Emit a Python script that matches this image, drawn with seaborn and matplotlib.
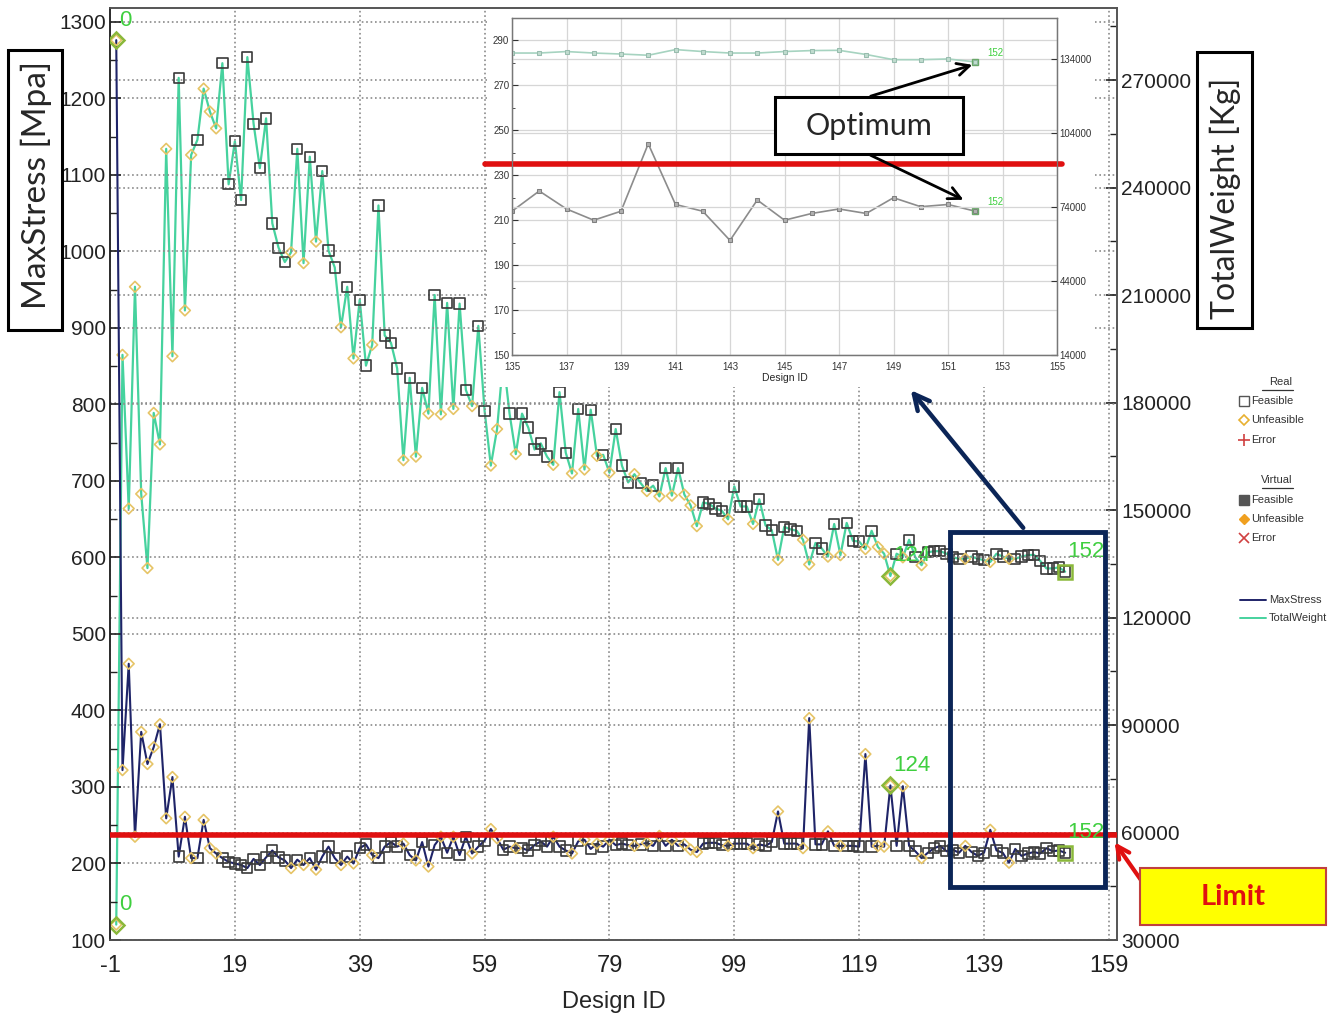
import numpy as np
import pandas as pd
import seaborn as sns
import matplotlib.pyplot as plt
from matplotlib.patches import Rectangle, FancyArrowPatch
from matplotlib.lines import Line2D
from matplotlib.ticker import FixedLocator

# ---- data (design 0 .. 152) ----
design_ids = list(range(153))

max_stress = [
    1276, 322, 461, 235, 372, 330, 352, 382, 259, 313,
    209, 261, 207, 207, 257, 220, 213, 207, 202, 200,
    198, 194, 206, 198, 208, 217, 208, 204, 194, 205,
    198, 207, 192, 209, 222, 207, 198, 209, 200, 220,
    225, 211, 207, 222, 228, 222, 226, 211, 204, 228,
    196, 224, 235, 214, 235, 211, 235, 213, 222, 230,
    245, 233, 218, 222, 220, 220, 217, 224, 229, 222,
    235, 222, 217, 213, 229, 231, 219, 226, 222, 231,
    224, 226, 224, 223, 225, 227, 223, 236, 223, 231,
    223, 225, 218, 215, 226, 227, 227, 224, 223, 226,
    226, 226, 220, 225, 223, 228, 268, 226, 226, 226,
    220, 390, 225, 225, 242, 223, 223, 223, 223, 222,
    343, 222, 223, 222, 302, 223, 301, 223, 216, 207,
    214, 220, 223, 216, 218, 214, 223, 215, 210, 214,
    244, 217, 214, 201, 219, 210, 213, 215, 213, 220,
    216, 217, 214,
]

total_weight = [
    34300, 193300, 150400, 212300, 154500, 133800, 177100, 168300, 250800, 192900,
    270600, 205700, 249100, 253300, 267600, 261200, 256500, 274700, 240900, 252900,
    236500, 276400, 257800, 245400, 259300, 230000, 223200, 219200, 221900, 250800,
    218900, 248600, 224900, 244600, 222400, 217700, 201000, 212300, 192300, 208700,
    190300, 196100, 235000, 198700, 196700, 189500, 163900, 186900, 164900, 184100,
    176900, 210000, 176700, 207800, 178200, 207600, 183500, 179000, 201400, 177700,
    162400, 172600, 192300, 176900, 165600, 176900, 173000, 166900, 168600, 164900,
    162600, 182900, 166000, 160200, 178200, 161300, 178000, 165100, 165400, 160400,
    172600, 162400, 157700, 160000, 157500, 155300, 156800, 153800, 161700, 154000,
    161700, 154300, 151300, 145500, 152100, 151700, 150400, 149800, 147400, 156600,
    151000, 151000, 146100, 153000, 145700, 144400, 136100, 145300, 144600, 144200,
    141700, 134800, 140800, 139300, 137000, 146100, 137400, 146400, 141400, 141200,
    139100, 144200, 139700, 137800, 131600, 137800, 136800, 141700, 136800, 134600,
    138200, 138500, 138500, 137800, 136800, 136400, 136400, 137000, 136400, 136000,
    135500, 137800, 137000, 136400, 136400, 137000, 137400, 137500, 135800, 133700,
    133700, 134000, 132800,
]

# F = feasible (square), U = unfeasible (diamond)
status = list(
    "UUUUUUUUUU" "FUUFUUUFFF" "FFFFFFFFUF" "UFUFFFUFUF" "FUFFFFUFUF"
    "UFUFUFFUFF" "UUFFUFFFFF" "UFFUFUFUFU" "FFFUFUFUFU" "FUUUFFFFUF"
    "FFUFFFUFFF" "UUFFUFUFFF" "UFUUUFUFFU" "FFFFFFUFFF" "UFFUFFFFFF" "FFF"
)

highlight_ids = [0, 124, 152]
zoom_ids = list(range(135, 153))
stress_limit_main = 237
stress_limit_zoom = 235

x_ticks = list(range(-1, 160, 20))
stress_ticks = list(range(100, 1301, 100))
weight_ticks = list(range(30000, 270001, 30000))
zoom_x_ticks = list(range(135, 156, 2))
zoom_stress_ticks = list(range(150, 291, 20))
zoom_weight_ticks = list(range(14000, 134001, 30000))

df = pd.DataFrame({"DesignID": design_ids, "MaxStress": max_stress,
                   "TotalWeight": total_weight, "Status": status})
feas = df[df["Status"] == "F"]
unfeas = df[df["Status"] == "U"]
hi = df[df["DesignID"].isin(highlight_ids)]
zdf = df[df["DesignID"].isin(zoom_ids)]

# ---- style ----
sns.set_theme(style="white")
plt.rcParams["font.family"] = ["Liberation Sans", "DejaVu Sans"]
plt.rcParams["axes.unicode_minus"] = False

NAVY = "#1f2468"
TEAL = "#46d29e"
SQ = "#3a3a3a"
DIA = "#e6c466"
GREEN = "#3fcf3f"
RED = "#e01010"
GRID = "#8a8a8a"

W, H = 1343, 1021
fig = plt.figure(figsize=(W / 100, H / 100), dpi=100, facecolor="white")


def fbox(x0, y0, x1, y1):
    return [x0 / W, 1 - y1 / H, (x1 - x0) / W, (y1 - y0) / H]


def fp(x, y):
    return (x / W, 1 - y / H)


# ---- main chart ----
ax = fig.add_axes(fbox(110, 8, 1117, 940))
ax2 = ax.twinx()
ax.set_zorder(2)
ax.patch.set_visible(False)
ax2.set_zorder(1)

sns.lineplot(data=df, x="DesignID", y="TotalWeight", ax=ax2, color=TEAL, lw=1.6, zorder=2)
sns.scatterplot(data=feas, x="DesignID", y="TotalWeight", ax=ax2, marker="s", s=55,
                facecolors="none", edgecolor=SQ, linewidth=1.2, zorder=3)
sns.scatterplot(data=unfeas, x="DesignID", y="TotalWeight", ax=ax2, marker="D", s=30,
                facecolors="none", edgecolor=DIA, linewidth=1.2, zorder=3)

sns.lineplot(data=df, x="DesignID", y="MaxStress", ax=ax, color=NAVY, lw=1.5, zorder=2)
sns.scatterplot(data=feas, x="DesignID", y="MaxStress", ax=ax, marker="s", s=55,
                facecolors="none", edgecolor=SQ, linewidth=1.2, zorder=3)
sns.scatterplot(data=unfeas, x="DesignID", y="MaxStress", ax=ax, marker="D", s=30,
                facecolors="none", edgecolor=DIA, linewidth=1.2, zorder=3)

# highlighted designs (0, 124, 152)
for _, r in hi.iterrows():
    m = "s" if r["Status"] == "F" else "D"
    for a, col in ((ax, "MaxStress"), (ax2, "TotalWeight")):
        a.plot(r["DesignID"], r[col], marker=m, ms=10 if m == "s" else 8, mfc="none",
               mec="#8ab83a", mew=1.8, zorder=4)
        a.annotate(str(int(r["DesignID"])), (r["DesignID"], r[col]),
                   xytext=(21 if r["DesignID"] else 9, 20), textcoords="offset pixels",
                   ha="center", va="center", color=GREEN, fontsize=16, zorder=5)

ax.axhline(stress_limit_main, color=RED, lw=4, zorder=4)

ax.set_xlim(-1, 160.3)
ax.set_ylim(100, 1318)
ax2.set_ylim(30000, 290100)
ax.set_xticks(x_ticks)
ax.xaxis.set_minor_locator(FixedLocator(list(range(9, 160, 20))))
ax.set_yticks(stress_ticks)
ax.yaxis.set_minor_locator(FixedLocator(list(range(150, 1301, 100))))
ax2.set_yticks(weight_ticks)
ax2.yaxis.set_minor_locator(FixedLocator(list(range(45000, 285001, 30000))))
for a in (ax, ax2):
    a.tick_params(which="major", direction="in", length=8, width=1.2, colors="#222")
    a.tick_params(which="minor", direction="in", length=5, width=1.0, colors="#222")
    a.tick_params(axis="y", labelsize=15, pad=3)
    for s in a.spines.values():
        s.set_color("#555")
        s.set_linewidth(1.2)
ax.tick_params(axis="x", labelsize=17, pad=11)
ax.spines["left"].set_color("#222")
ax.grid(True, which="major", axis="both", ls=":", color=GRID, lw=1.2)
ax2.grid(True, which="major", axis="y", ls=":", color=GRID, lw=1.2)
ax.set_xlabel("Design ID", fontsize=17, labelpad=10)
ax.set_ylabel("")
ax2.set_ylabel("")

# white backdrop of the zoomed view
bg = fig.add_axes(fbox(487, 9.5, 1095, 387))
bg.set_zorder(3)
bg.set_xticks([])
bg.set_yticks([])
for s in bg.spines.values():
    s.set_visible(False)

# ---- zoomed view of the last designs ----
axi = fig.add_axes(fbox(512, 18, 1057, 355))
axi2 = axi.twinx()
axi.set_zorder(4)
axi2.set_zorder(4)

sns.lineplot(data=zdf, x="DesignID", y="MaxStress", ax=axi, color="#8c8c8c", lw=1.2,
             marker="s", markersize=3.5, markerfacecolor="#b0b0b0", markeredgecolor="#808080")
sns.lineplot(data=zdf, x="DesignID", y="TotalWeight", ax=axi2, color="#a6d3c0", lw=1.2,
             marker="s", markersize=3.5, markerfacecolor="#c0dccf", markeredgecolor="#98bcae")
last = zdf[zdf["DesignID"] == 152].iloc[0]
axi.plot(152, last["MaxStress"], marker="s", ms=5, mfc="none", mec="#6aa86a", zorder=5)
axi2.plot(152, last["TotalWeight"], marker="s", ms=5, mfc="none", mec="#6aa86a", zorder=5)
axi.annotate("152", (152, last["MaxStress"]), xytext=(12, 6), textcoords="offset pixels",
             color=GREEN, fontsize=7)
axi2.annotate("152", (152, last["TotalWeight"]), xytext=(12, 6), textcoords="offset pixels",
              color=GREEN, fontsize=7)
axi.plot([134, 155.2], [stress_limit_zoom] * 2, color=RED, lw=4, clip_on=False, zorder=6)

axi.set_xlim(135, 155)
axi.set_ylim(150, 300)
axi2.set_ylim(14000, 150600)
axi.set_xticks(zoom_x_ticks)
axi.xaxis.set_minor_locator(FixedLocator(list(range(136, 155, 2))))
axi.set_yticks(zoom_stress_ticks)
axi.yaxis.set_minor_locator(FixedLocator(list(range(160, 300, 20))))
axi2.set_yticks(zoom_weight_ticks)
for a in (axi, axi2):
    a.tick_params(which="major", direction="in", length=4, width=0.8, labelsize=7,
                  colors="#333", pad=2)
    a.tick_params(which="minor", direction="in", length=2.5, width=0.6, colors="#333")
    for s in a.spines.values():
        s.set_color("#777")
        s.set_linewidth(0.9)
axi.tick_params(axis="x", pad=5)
axi.grid(True, which="major", axis="both", ls="-", color="#d6d6d6", lw=0.9)
axi2.grid(True, which="major", axis="y", ls="-", color="#d6d6d6", lw=0.9)
axi.set_xlabel("Design ID", fontsize=7.5, labelpad=1)
axi.set_ylabel("")
axi2.set_ylabel("")

# ---- axis title boxes ----
fig.add_artist(Rectangle(fp(8, 330), 54 / W, 280 / H, transform=fig.transFigure,
                         fc="white", ec="black", lw=2.2, zorder=10))
fig.text(*fp(36, 185), "MaxStress [Mpa]", rotation=90, ha="center", va="center",
         fontsize=24, family="Lato", zorder=11)
fig.add_artist(Rectangle(fp(1197, 328), 55 / W, 276 / H, transform=fig.transFigure,
                         fc="white", ec="black", lw=2.2, zorder=10))
fig.text(*fp(1225, 198), "TotalWeight [Kg]", rotation=90, ha="center", va="center",
         fontsize=23, family="Lato", zorder=11)

# ---- Optimum call-out ----
for start, end in (((868, 97), (975, 64)), ((868, 154), (966, 201))):
    fig.add_artist(FancyArrowPatch(fp(*start), fp(*end), transform=fig.transFigure,
                                   arrowstyle="->", mutation_scale=22, lw=2, color="black",
                                   zorder=10))
fig.add_artist(Rectangle(fp(775, 154), 188 / W, 57 / H, transform=fig.transFigure,
                         fc="white", ec="black", lw=2.2, zorder=11))
fig.text(*fp(869, 126), "Optimum", ha="center", va="center", fontsize=22, family="Lato",
         zorder=12)

# ---- zoom window box and arrow ----
fig.add_artist(Rectangle(fp(950, 887), 155 / W, 355 / H, transform=fig.transFigure,
                         fc="none", ec="#0b2557", lw=3.5, zorder=10))
fig.add_artist(FancyArrowPatch(fp(1025, 530), fp(909, 388), transform=fig.transFigure,
                               arrowstyle="->", mutation_scale=28, lw=3.2, color="#0b2557",
                               zorder=10))

# ---- Limit call-out ----
fig.add_artist(FancyArrowPatch(fp(1150, 893), fp(1113, 840), transform=fig.transFigure,
                               arrowstyle="->", mutation_scale=22, lw=3, color=RED, zorder=10))
fig.add_artist(Rectangle(fp(1140, 925), 186 / W, 57 / H, transform=fig.transFigure,
                         fc="#ffff00", ec="#c04040", lw=1.5, zorder=11))
fig.text(*fp(1233, 897), "Limit", ha="center", va="center", fontsize=21, family="Lato",
         weight="bold", color=RED, zorder=12)


# ---- legend ----
def leg_text(x, y, s):
    fig.text(*fp(x, y), s, ha="left", va="center", fontsize=8, color="#333", zorder=12)


def leg_mark(x, y, **kw):
    fig.add_artist(Line2D([x / W], [1 - y / H], transform=fig.transFigure, ls="none",
                          zorder=12, **kw))


for title, ty in (("Real", 382), ("Virtual", 480)):
    fig.text(*fp(1292, ty), title, ha="right", va="center", fontsize=8, color="#333", zorder=12)
    fig.add_artist(Line2D([1262 / W, 1293 / W], [1 - (ty + 8) / H] * 2,
                          transform=fig.transFigure, color="#333", lw=0.9, zorder=12))
leg_mark(1244, 401, marker="s", ms=7, mfc="none", mec="#555", mew=1)
leg_text(1251, 401, "Feasible")
leg_mark(1244, 420, marker="D", ms=5.5, mfc="none", mec="#e8b030", mew=1.2)
leg_text(1251, 420, "Unfeasible")
leg_mark(1244, 440, marker="+", ms=8, mec="#d04040", mew=1.2)
leg_text(1251, 440, "Error")
leg_mark(1244, 500, marker="s", ms=7, mfc="#555", mec="#555")
leg_text(1251, 500, "Feasible")
leg_mark(1244, 519, marker="D", ms=5.5, mfc="#f0a020", mec="#f0a020")
leg_text(1251, 519, "Unfeasible")
leg_mark(1244, 538, marker="x", ms=7, mec="#d04040", mew=1.2)
leg_text(1251, 538, "Error")
for ly, col, name in ((600, NAVY, "MaxStress"), (618, TEAL, "TotalWeight")):
    fig.add_artist(Line2D([1240 / W, 1266 / W], [1 - ly / H] * 2, transform=fig.transFigure,
                          color=col, lw=1.4, zorder=12))
    leg_text(1269, ly, name)

fig.savefig("out.png", dpi=100, facecolor="white")
